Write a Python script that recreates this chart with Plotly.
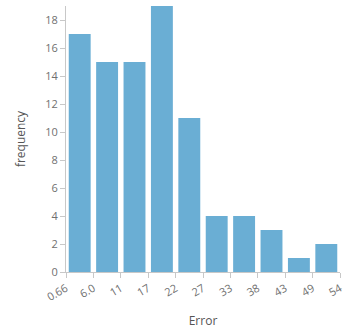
import plotly.graph_objects as go

# Histogram of the error values: 10 equal bins from 0.66 to 54
bin_edges = [0.66, 5.994, 11.328, 16.662, 21.996, 27.33, 32.664, 37.998, 43.332, 48.666, 54.0]
edge_labels = ["0.66", "6.0", "11", "17", "22", "27", "33", "38", "43", "49", "54"]
counts = [17, 15, 15, 19, 11, 4, 4, 3, 1, 2]

centers = [(a + b) / 2 for a, b in zip(bin_edges[:-1], bin_edges[1:])]
widths = [(b - a) * 0.8 for a, b in zip(bin_edges[:-1], bin_edges[1:])]

font_family = "Open Sans, Lato, sans-serif"
axis_grey = "#c8c8c8"
tick_grey = "#707070"
text_grey = "#555555"

fig = go.Figure(
    go.Bar(
        x=centers,
        y=counts,
        width=widths,
        marker=dict(color="#6aaed4", line=dict(width=0)),
        hoverinfo="x+y",
    )
)

fig.update_layout(
    width=347,
    height=329,
    margin=dict(l=66, r=7, t=6, b=57, autoexpand=False),
    paper_bgcolor="white",
    plot_bgcolor="white",
    showlegend=False,
    font=dict(family=font_family, color=text_grey, size=11),
)

fig.update_xaxes(
    range=[bin_edges[0], bin_edges[-1]],
    tickmode="array",
    tickvals=bin_edges,
    ticktext=edge_labels,
    tickangle=-30,
    tickfont=dict(color=tick_grey),
    ticks="outside",
    ticklen=5,
    tickcolor=axis_grey,
    showline=True,
    linecolor=axis_grey,
    showgrid=False,
    zeroline=False,
    automargin=False,
    title=dict(text="Error", font=dict(size=12, color=text_grey), standoff=22),
)

fig.update_yaxes(
    range=[0, 19],
    tickmode="linear",
    tick0=0,
    dtick=2,
    tickfont=dict(color=tick_grey),
    ticks="outside",
    ticklen=5,
    tickcolor=axis_grey,
    showline=True,
    linecolor=axis_grey,
    showgrid=False,
    zeroline=False,
    automargin=False,
    title=dict(text="frequency", font=dict(size=12, color=text_grey), standoff=17),
)

fig.write_html("out.html")
